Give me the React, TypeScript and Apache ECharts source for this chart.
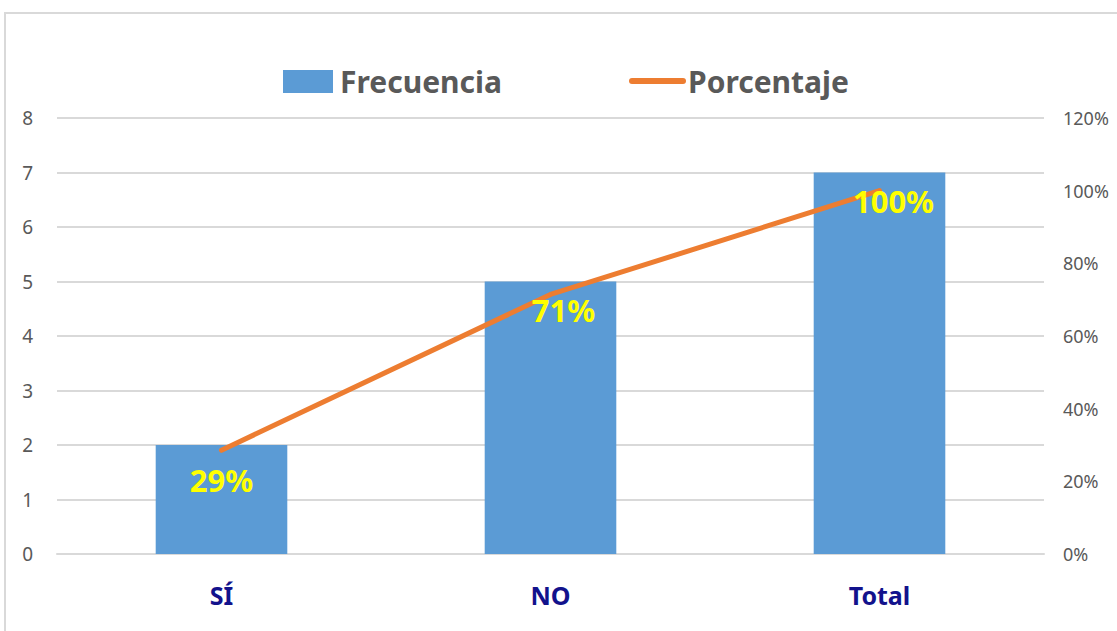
import React, { useEffect, useRef } from "react";
import * as echarts from "echarts";

const categories = ["SÍ", "NO", "Total"];
const frecuencia = [2, 5, 7];
const porcentaje = [0.2857, 0.7143, 1.0];
const porcentajeLabels = ["29%", "71%", "100%"];
const labelOffsets = [
  [0, 30],
  [13, 16],
  [14, 10],
];

const FONT = "'Noto Sans', 'DejaVu Sans', sans-serif";

export default function App() {
  const ref = useRef<HTMLDivElement>(null);
  useEffect(() => {
    if (!ref.current) return;
    const chart = echarts.init(ref.current, null, { renderer: "svg" });
    chart.setOption({
      animation: false,
      backgroundColor: "#ffffff",
      textStyle: { fontFamily: FONT },
      grid: { left: 57, right: 73, top: 118, bottom: 77, containLabel: false },
      xAxis: {
        type: "category",
        data: categories,
        axisLine: { show: true, lineStyle: { color: "#D9D9D9", width: 2 } },
        axisTick: { show: false },
        axisLabel: {
          color: "#12128C",
          fontWeight: "bold",
          fontSize: 25,
          fontFamily: FONT,
          margin: 28,
        },
      },
      yAxis: [
        {
          type: "value",
          min: 0,
          max: 8,
          interval: 1,
          axisLine: { show: false },
          axisTick: { show: false },
          splitLine: { lineStyle: { color: "#D9D9D9", width: 2 } },
          axisLabel: { color: "#595959", fontSize: 19, fontFamily: FONT, margin: 24 },
        },
        {
          type: "value",
          min: 0,
          max: 1.2,
          interval: 0.2,
          axisLine: { show: false },
          axisTick: { show: false },
          splitLine: { show: false },
          axisLabel: {
            color: "#595959",
            fontSize: 18,
            fontFamily: FONT,
            margin: 19,
            formatter: (v: number) => Math.round(v * 100) + "%",
          },
        },
      ],
      series: [
        {
          name: "Frecuencia",
          type: "bar",
          data: frecuencia,
          barWidth: "40%",
          itemStyle: { color: "#5B9BD5" },
          yAxisIndex: 0,
        },
        {
          name: "Porcentaje",
          type: "line",
          yAxisIndex: 1,
          data: porcentaje.map((v, i) => ({
            value: v,
            label: {
              show: true,
              position: "inside",
              offset: labelOffsets[i],
              formatter: porcentajeLabels[i],
              color: "#FFFF00",
              fontWeight: "bold",
              fontSize: 31,
              fontFamily: FONT,
            },
          })),
          showSymbol: true,
          symbol: "circle",
          symbolSize: 4,
          lineStyle: { color: "#ED7D31", width: 5, cap: "round" },
          itemStyle: { color: "#ED7D31" },
          z: 5,
        },
      ],
      graphic: [
        {
          type: "rect",
          shape: { x: 5, y: 13, width: 1300, height: 800 },
          style: { fill: "none", stroke: "#D9D9D9", lineWidth: 2 },
          silent: true,
          z: -1,
        },
        {
          type: "rect",
          shape: { x: 283, y: 70, width: 50, height: 23 },
          style: { fill: "#5B9BD5" },
        },
        {
          type: "text",
          x: 340,
          y: 81,
          style: {
            text: "Frecuencia",
            fill: "#595959",
            font: "bold 30px " + FONT,
            verticalAlign: "middle",
            align: "left",
          },
        },
        {
          type: "line",
          shape: { x1: 632, y1: 81, x2: 683, y2: 81 },
          style: { stroke: "#ED7D31", lineWidth: 6, lineCap: "round" },
        },
        {
          type: "text",
          x: 688,
          y: 81,
          style: {
            text: "Porcentaje",
            fill: "#595959",
            font: "bold 30px " + FONT,
            verticalAlign: "middle",
            align: "left",
          },
        },
      ],
    });
    return () => chart.dispose();
  }, []);
  return (
    <div
      ref={ref}
      style={{ position: "fixed", left: 0, top: 0, width: 1117, height: 631 }}
    />
  );
}
